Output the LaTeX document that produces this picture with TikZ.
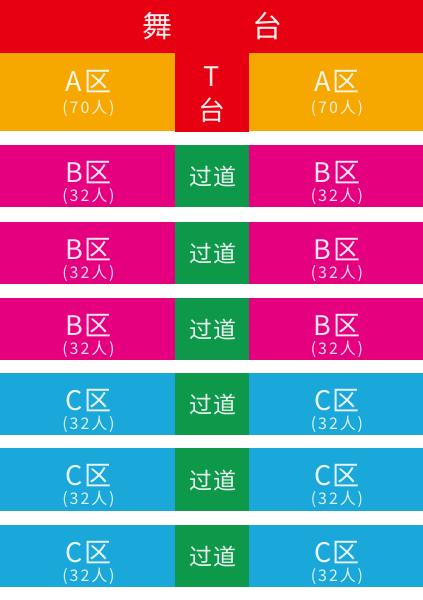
\documentclass[tikz,border=0pt]{standalone}
\usepackage{fontspec}
\setmainfont{Noto Sans CJK SC}
\definecolor{stagered}{HTML}{E60012}
\definecolor{zoneA}{HTML}{F6A700}
\definecolor{zoneB}{HTML}{E4007F}
\definecolor{zoneC}{HTML}{1AA7D9}
\definecolor{aisle}{HTML}{0E994A}
\begin{document}
\begin{tikzpicture}[x=1pt,y=-1pt,
  zname/.style={text=white,text opacity=0.9,font=\fontsize{27}{27}\selectfont\addfontfeature{LetterSpace=6},inner sep=0pt},
  zcount/.style={text=white,text opacity=0.85,font=\fontsize{16}{16}\selectfont\addfontfeature{LetterSpace=12},inner sep=0pt},
  aisletext/.style={text=white,text opacity=0.92,font=\fontsize{23}{23}\selectfont\addfontfeature{LetterSpace=8},inner sep=0pt},
  stagetext/.style={text=white,text opacity=0.92,font=\fontsize{30}{30}\selectfont,inner sep=0pt},
  ttext/.style={text=white,text opacity=0.92,font=\fontsize{27}{27}\selectfont,inner sep=0pt}]
\useasboundingbox (0,0) rectangle (423,600);
\fill[white] (0,0) rectangle (423,600);
% stage
\fill[stagered] (0,0) rectangle (423,53);
\fill[stagered] (175,53) rectangle (249,132);
\fill[zoneA] (0,53) rectangle (175,131);
\fill[zoneA] (249,53) rectangle (423,131);
\node[stagetext] (wu) at (157,26) {舞};
\node[stagetext] (tai) at (267,26) {台};
\node[ttext] (tt) at (212,77) {T};
\node[ttext] (tt2) at (212,110) {台};
\node[zname] (aL) at (88.5,82) {A区};
\node[zcount] (aLc) at (88.5,108) {(70人)};
\node[zname] (aR) at (337,82) {A区};
\node[zcount] (aRc) at (337,108) {(70人)};
% rows
\foreach \top/\bot/\col/\lab [count=\i] in {145/207/zoneB/B,222/284/zoneB/B,298/360/zoneB/B,373/435/zoneC/C,448/511/zoneC/C,525/587/zoneC/C}{
  \fill[\col] (0,\top) rectangle (175,\bot);
  \fill[\col] (249,\top) rectangle (423,\bot);
  \fill[aisle] (175,\top) rectangle (249,\bot);
  \pgfmathsetmacro{\mid}{(\top+\bot)/2}
  \node[zname] (zl\i) at (88.5,\mid-3.5) {\lab 区};
  \node[zcount] (zlc\i) at (88.5,\mid+20) {(32人)};
  \node[zname] (zr\i) at (337,\mid-3.5) {\lab 区};
  \node[zcount] (zrc\i) at (337,\mid+20) {(32人)};
  \node[aisletext] (ai\i) at (213,\mid+1) {过道};
}
\end{tikzpicture}
\end{document}
